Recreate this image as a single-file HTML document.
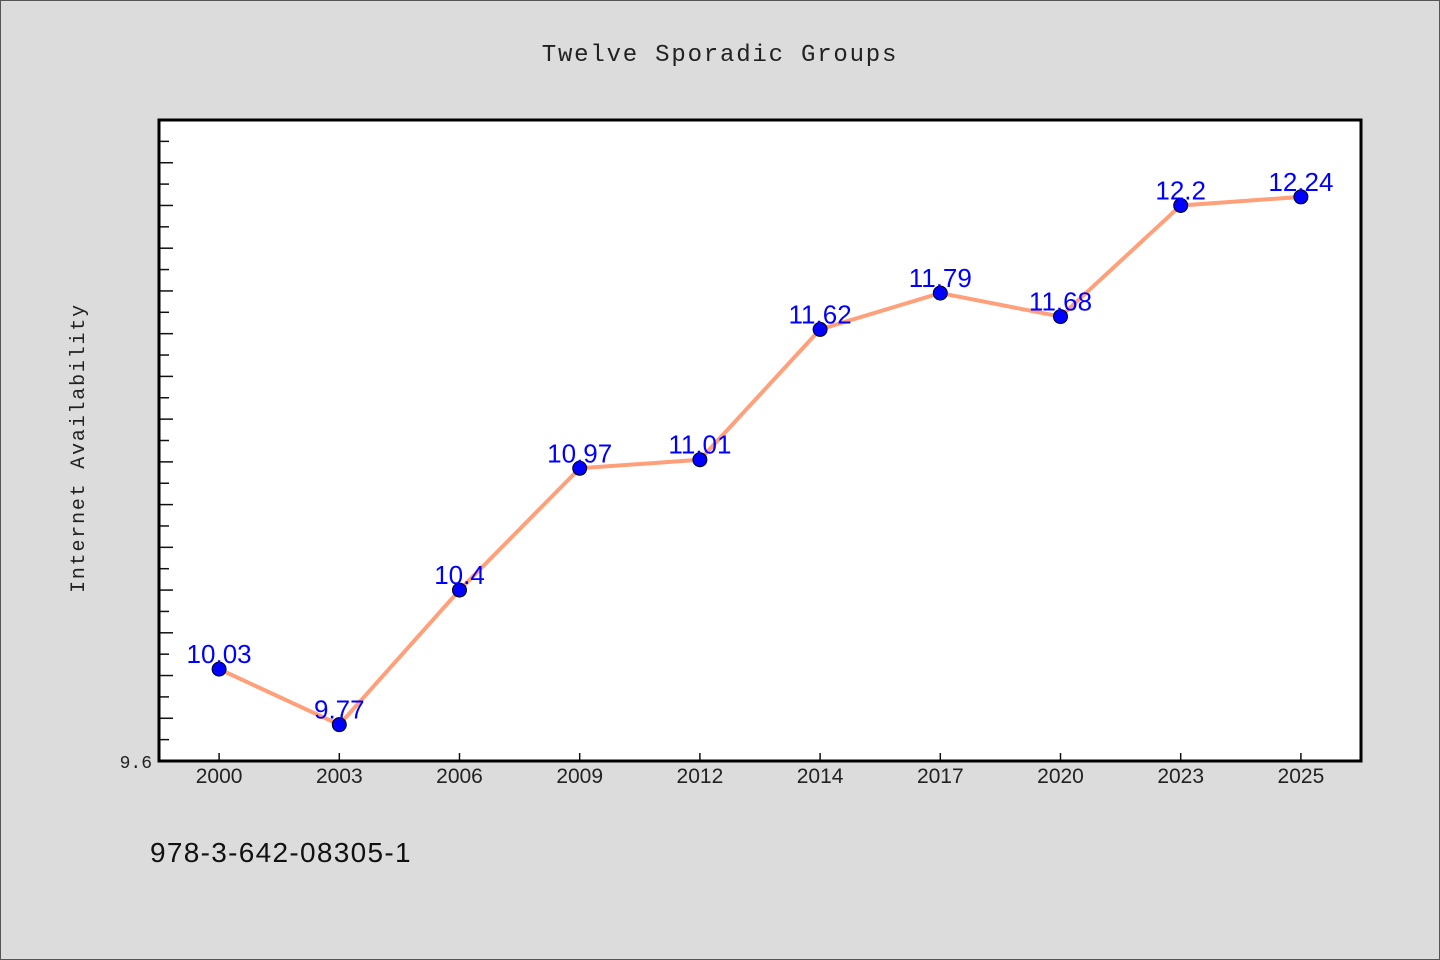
<!DOCTYPE html>
<html><head><meta charset="utf-8"><style>
html,body{margin:0;padding:0;background:#dcdcdc;}
svg{display:block;}
</style></head><body>
<svg id="chart" width="1440" height="960" xmlns="http://www.w3.org/2000/svg">
<rect x="0.5" y="0.5" width="1439" height="959" fill="#dcdcdc" stroke="#555" stroke-width="1"/>
<text x="720" y="61" text-anchor="middle" font-family="Liberation Mono, monospace" font-size="24" letter-spacing="1.8" fill="#222">Twelve Sporadic Groups</text>
<text transform="translate(84,448) rotate(-90)" text-anchor="middle" font-family="Liberation Mono, monospace" font-size="20" letter-spacing="1.8" fill="#222">Internet Availability</text>
<rect x="159" y="120" width="1202" height="641" fill="#fff"/>
<g id="ticks"></g>
<g id="marks"></g>
<rect x="159" y="120" width="1202" height="641" fill="none" stroke="#000" stroke-width="3"/>
<text x="152" y="768" text-anchor="end" font-family="Liberation Mono, monospace" font-size="18" fill="#222">9.6</text>
<text x="150" y="862" font-family="Liberation Sans, sans-serif" font-size="28" letter-spacing="1.3" fill="#111">978-3-642-08305-1</text>
</svg>
<script>
const categories = ["2000","2003","2006","2009","2012","2014","2017","2020","2023","2025"];
const values = [10.03,9.77,10.4,10.97,11.01,11.62,11.79,11.68,12.2,12.24];
const valueLabels = ["10.03","9.77","10.4","10.97","11.01","11.62","11.79","11.68","12.2","12.24"];
const yMin = 9.6, yMax = 12.6, yMinorStep = 0.1;
const NS = "http://www.w3.org/2000/svg";
const L=159,R=1361,T=120,B=761;
const bw=(R-L)/categories.length;
function x(i){return L+bw*(i+0.5);}
function y(v){return B-(v-yMin)/(yMax-yMin)*(B-T);}
const tk=document.getElementById('ticks'), mk=document.getElementById('marks');
function el(n,a,p){const e=document.createElementNS(NS,n);for(const k in a)e.setAttribute(k,a[k]);p.appendChild(e);return e;}
const nT=Math.round((yMax-yMin)/yMinorStep);
for(let i=1;i<nT;i++){
  const yy=y(yMin+i*yMinorStep);
  const t=el('line',{x1:L,x2:L+(i%2===0?14:10),y1:yy,y2:yy,stroke:'#111','stroke-width':1.5},tk);
  
  
}
categories.forEach((c,i)=>{
  const t=el('line',{x1:x(i),x2:x(i),y1:B,y2:B-8,stroke:'#111','stroke-width':1.5},tk);
  
  
  const lb=el('text',{x:x(i),y:B+22,'text-anchor':'middle','font-family':'Liberation Sans, sans-serif','font-size':21,fill:'#222'},tk);
  lb.textContent=c;
  
  
});
const line=el('polyline',{points:values.map((v,i)=>x(i)+','+y(v)).join(' '),fill:'none',stroke:'#ffa07a','stroke-width':4,'stroke-linejoin':'round'},mk);


values.forEach((v,i)=>{
  const p=el('circle',{cx:x(i),cy:y(v),r:7,fill:'#0000ff',stroke:'#000','stroke-width':1},mk);
  
  
});
values.forEach((v,i)=>{
  const t=el('text',{x:x(i),y:y(v)-6,'text-anchor':'middle','font-family':'Liberation Sans, sans-serif','font-size':26,fill:'#0000ff'},mk);
  t.textContent=valueLabels[i];
  
  
});
</script>
</body></html>
